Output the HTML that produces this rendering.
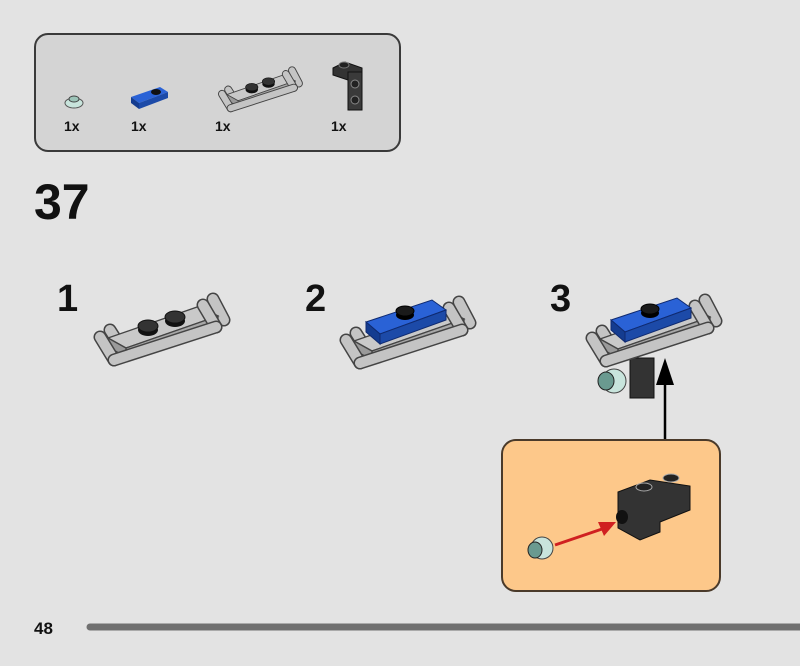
<!DOCTYPE html>
<html><head><style>
html,body{margin:0;padding:0;background:#e3e3e3;}
svg{display:block;}
text{font-family:"Liberation Sans",sans-serif;font-weight:bold;fill:#111;}
</style></head><body>
<svg width="800" height="666" viewBox="0 0 800 666" xmlns="http://www.w3.org/2000/svg">
<defs>
<g id="plate">
  <!-- back handles -->
  <line x1="110" y1="330" x2="124" y2="352" stroke="#444" stroke-width="13" stroke-linecap="round"/>
  <line x1="110" y1="330" x2="124" y2="352" stroke="#c4c4c4" stroke-width="10" stroke-linecap="round"/>
  <line x1="213" y1="299" x2="224" y2="320" stroke="#444" stroke-width="13" stroke-linecap="round"/>
  <line x1="213" y1="299" x2="224" y2="320" stroke="#c4c4c4" stroke-width="10" stroke-linecap="round"/>
  <!-- body -->
  <polygon points="108,338 200,306 218,316 126,348" fill="#c9c9c9" stroke="#444" stroke-width="1.3"/>
  <polygon points="126,348 218,316 218,325 126,357" fill="#a8a8a8" stroke="#444" stroke-width="1.3"/>
  <polygon points="108,338 126,348 126,357 108,347" fill="#9a9a9a" stroke="#444" stroke-width="1.3"/>
  <!-- front handles -->
  <line x1="100" y1="337" x2="114" y2="360" stroke="#444" stroke-width="13" stroke-linecap="round"/>
  <line x1="100" y1="337" x2="114" y2="360" stroke="#c4c4c4" stroke-width="10" stroke-linecap="round"/>
  <line x1="203" y1="305" x2="216" y2="327" stroke="#444" stroke-width="13" stroke-linecap="round"/>
  <line x1="203" y1="305" x2="216" y2="327" stroke="#c4c4c4" stroke-width="10" stroke-linecap="round"/>
  <line x1="114" y1="360" x2="216" y2="327" stroke="#444" stroke-width="13" stroke-linecap="round"/>
  <line x1="114" y1="360" x2="216" y2="327" stroke="#c4c4c4" stroke-width="10" stroke-linecap="round"/>
</g>
<g id="studs">
  <ellipse cx="148" cy="330" rx="10" ry="6" fill="#111"/>
  <ellipse cx="148" cy="326" rx="10" ry="6" fill="#333" stroke="#111"/>
  <ellipse cx="175" cy="321" rx="10" ry="6" fill="#111"/>
  <ellipse cx="175" cy="317" rx="10" ry="6" fill="#333" stroke="#111"/>
</g>
<g id="tile">
  <polygon points="366,322 432,300 446,310 380,334" fill="#2a62d6" stroke="#0f2a70" stroke-width="1"/>
  <polygon points="380,334 446,310 446,320 380,344" fill="#1c4aa8" stroke="#0f2a70" stroke-width="1"/>
  <polygon points="366,322 380,334 380,344 366,332" fill="#143c90" stroke="#0f2a70" stroke-width="1"/>
  <ellipse cx="405" cy="315" rx="9" ry="5" fill="#000"/>
  <ellipse cx="405" cy="311" rx="9" ry="5" fill="#1a1a1a" stroke="#000"/>
</g>
</defs>
<rect width="800" height="666" fill="#e3e3e3"/>
<!-- parts box -->
<rect x="35" y="34" width="365" height="117" rx="13" fill="#d4d4d4" stroke="#3a3a3a" stroke-width="2"/>
<ellipse cx="74" cy="103" rx="9" ry="5" fill="#c8e4dc" stroke="#555" stroke-width="1"/>
<ellipse cx="74" cy="99" rx="5" ry="3" fill="#9cc4b8" stroke="#444" stroke-width="1"/>
<text x="64" y="131" font-size="14">1x</text>
<polygon points="131,97 160,87 168,92 139,103" fill="#2a62d6"/>
<polygon points="131,97 139,103 139,109 131,103" fill="#143c90"/>
<polygon points="139,103 168,92 168,98 139,109" fill="#1c4aa8"/>
<ellipse cx="156" cy="92" rx="5" ry="3" fill="#111"/>
<text x="131" y="131" font-size="14">1x</text>
<g transform="translate(160,-115) scale(0.62)">
  <use href="#plate" style="opacity:1"/>
  <use href="#studs"/>
</g>
<text x="215" y="131" font-size="14">1x</text>
<polygon points="333,68 345,62 362,68 362,108 350,110 348,80 333,75" fill="#333" stroke="#111"/>
<rect x="348" y="72" width="14" height="38" fill="#3a3a3a" stroke="#111"/>
<ellipse cx="344" cy="65" rx="5" ry="3" fill="#222" stroke="#777"/>
<circle cx="355" cy="84" r="4" fill="#222" stroke="#888"/>
<circle cx="355" cy="100" r="4" fill="#222" stroke="#888"/>
<text x="331" y="131" font-size="14">1x</text>

<text x="34" y="219" font-size="50">37</text>
<text x="57" y="311" font-size="38">1</text>
<text x="305" y="311" font-size="38">2</text>
<text x="550" y="311" font-size="38">3</text>

<!-- step1 -->
<use href="#plate"/>
<use href="#studs"/>
<!-- step2 -->
<g transform="translate(246,3)"><use href="#plate"/></g>
<use href="#tile"/>
<!-- step3 -->
<rect x="630" y="358" width="24" height="40" fill="#333" stroke="#111"/>
<ellipse cx="614" cy="381" rx="12" ry="12" fill="#c8e4dc" stroke="#444"/>
<ellipse cx="606" cy="381" rx="8" ry="9" fill="#6a9a90" stroke="#222"/>
<g transform="translate(492,1)"><use href="#plate"/></g>
<g transform="translate(245,-2)"><use href="#tile"/></g>
<!-- arrow -->
<line x1="665" y1="441" x2="665" y2="380" stroke="#000" stroke-width="2.5"/>
<polygon points="665,358 656,385 674,385" fill="#000"/>
<!-- callout -->
<rect x="502" y="440" width="218" height="151" rx="14" fill="#fdc88a" stroke="#4a3a2a" stroke-width="2"/>
<polygon points="618,492 650,480 690,486 690,510 660,522 660,532 640,540 618,528" fill="#333" stroke="#111"/>
<ellipse cx="644" cy="487" rx="8" ry="4" fill="#222" stroke="#aaa"/>
<ellipse cx="671" cy="478" rx="8" ry="4" fill="#222" stroke="#aaa"/>
<ellipse cx="622" cy="517" rx="6" ry="7" fill="#111"/>
<line x1="555" y1="545" x2="605" y2="528" stroke="#d02020" stroke-width="3"/>
<polygon points="616,522 598,522 604,536" fill="#d02020"/>
<ellipse cx="542" cy="548" rx="11" ry="11" fill="#c8e4dc" stroke="#444"/>
<ellipse cx="535" cy="550" rx="7" ry="8" fill="#6a9a90" stroke="#222"/>

<text x="34" y="634" font-size="17">48</text>
<line x1="90" y1="627" x2="800" y2="627" stroke="#707070" stroke-width="7" stroke-linecap="round"/>
</svg>
</body></html>
